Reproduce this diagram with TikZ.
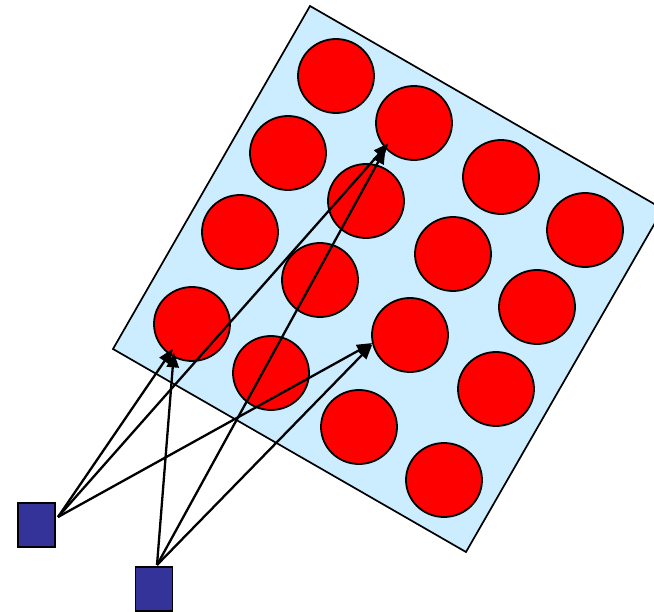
\documentclass[tikz,border=0pt]{standalone}
\usetikzlibrary{shapes.geometric,arrows.meta}
\definecolor{panel}{HTML}{CCECFF}
\definecolor{dotred}{HTML}{FF0000}
\definecolor{sqblue}{HTML}{333399}
\begin{document}
\begin{tikzpicture}[x=1pt,y=-1pt,
  dot/.style={ellipse,draw=black,line width=1.8pt,fill=dotred,minimum width=76pt,minimum height=74pt,inner sep=0pt},
  src/.style={rectangle,draw=black,line width=1.8pt,fill=sqblue,minimum width=37pt,minimum height=44pt,inner sep=0pt},
  link/.style={line width=2.3pt,-{Triangle[length=15pt,width=12pt]}}]
\useasboundingbox (0,0) rectangle (654,612);
\fill[panel,draw=black,line width=1.7pt] (310,6) -- (663,209) -- (466,552) -- (113,349) -- cycle;
\node[dot] (c1) at (336,76) {};
\node[dot] (c2) at (414,123) {};
\node[dot] (c3) at (501,177) {};
\node[dot] (c4) at (585,230) {};
\node[dot] (c5) at (288,153) {};
\node[dot] (c6) at (366,201) {};
\node[dot] (c7) at (453,254) {};
\node[dot] (c8) at (537,307) {};
\node[dot] (c9) at (240,232) {};
\node[dot] (c10) at (320,280) {};
\node[dot] (c11) at (410,335) {};
\node[dot] (c12) at (496,389) {};
\node[dot] (c13) at (192,324) {};
\node[dot] (c14) at (271,373) {};
\node[dot] (c15) at (359,427) {};
\node[dot] (c16) at (444,480) {};
\node[src] (s1) at (36.5,525) {};
\node[src] (s2) at (154,589) {};
\coordinate (p1) at (58,517);
\coordinate (p2) at (157,565);
\draw[link,shorten >=-7pt] (p1) -- (c13.233);
\draw[link,shorten >=-5pt] (p2) -- (c13.241);
\draw[link] (p1) -- (c11.192);
\draw[link] (p2) -- (c11.194);
\draw[link,shorten >=-6pt] (p1) -- (c2.220);
\draw[link] (p2) -- (c2.222);
\end{tikzpicture}
\end{document}
